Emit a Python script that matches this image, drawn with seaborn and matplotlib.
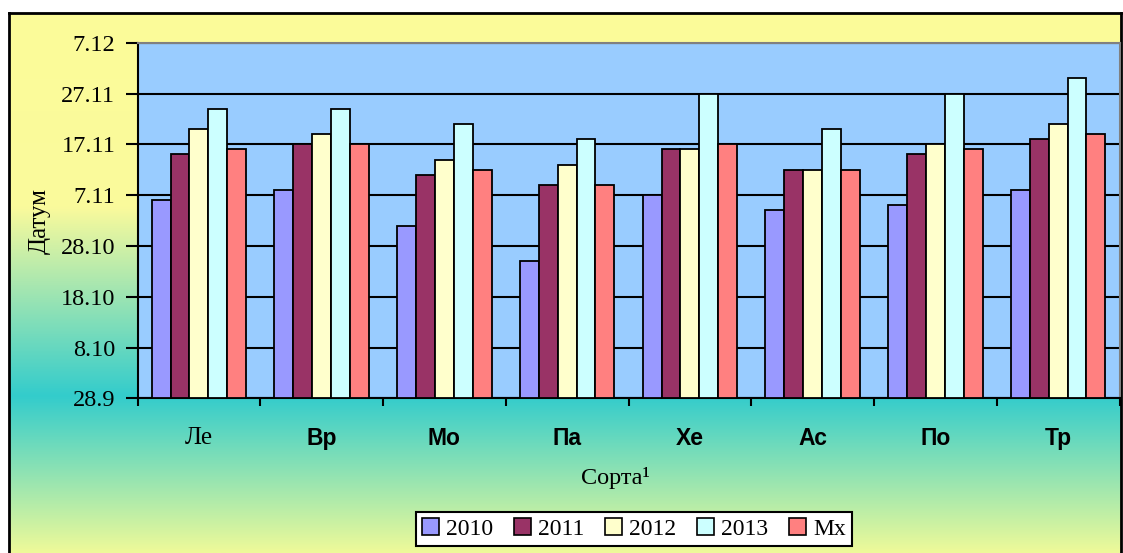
import numpy as np
import pandas as pd
import seaborn as sns
import matplotlib.pyplot as plt
from matplotlib.colors import LinearSegmentedColormap
from matplotlib.patches import Patch

# Sorts (x categories) and series
sorts = ['Ле', 'Вр', 'Мо', 'Па', 'Хе', 'Ас', 'По', 'Тр']
series = ['2010', '2011', '2012', '2013', 'Mx']

# values = days after 28.9
days_2010 = [39, 41, 34, 27, 40, 37, 38, 41]
days_2011 = [48, 50, 44, 42, 49, 45, 48, 51]
days_2012 = [53, 52, 47, 46, 49, 45, 50, 54]
days_2013 = [57, 57, 54, 51, 60, 53, 60, 63]
days_mx = [49, 50, 45, 42, 50, 45, 49, 52]

date_ticks = [0, 10, 20, 30, 40, 50, 60, 70]
date_labels = ['28.9', '8.10', '18.10', '28.10', '7.11', '17.11', '27.11', '7.12']

colors = ['#9999FF', '#993366', '#FFFFCC', '#CCFFFF', '#FF8080']

serif = 'Liberation Serif'
sans = 'Liberation Sans'

df = pd.DataFrame({'Сорта': sorts, '2010': days_2010, '2011': days_2011,
                   '2012': days_2012, '2013': days_2013, 'Mx': days_mx})
df_long = df.melt(id_vars='Сорта', var_name='series', value_name='day')

W, H = 1123, 553
fig = plt.figure(figsize=(W / 100, H / 100), dpi=100, facecolor='white')

# gradient chart area background
bg = fig.add_axes([9 / W, 0, 1112 / W, 540 / H], zorder=0)
cmap = LinearSegmentedColormap.from_list(
    'bg', [(0, '#FCFC99'), (0.36, '#FAFA9C'), (0.71, '#33CCCC'), (1, '#EEFA99')])
grad = np.linspace(0, 1, 256).reshape(-1, 1)
bg.imshow(grad, aspect='auto', cmap=cmap, extent=[0, 1, 0, 1], origin='upper')
bg.set_xticks([])
bg.set_yticks([])
for side, sp in bg.spines.items():
    sp.set_linewidth(2)
    sp.set_color('black')
bg.spines['bottom'].set_visible(False)

ax = fig.add_axes([137.5 / W, (H - 398.3) / H, 982 / W, 355.6 / H], zorder=1)
ax.set_facecolor('#99CCFF')
sns.barplot(data=df_long, x='Сорта', y='day', hue='series', hue_order=series,
            palette=colors, saturation=1, width=0.77, edgecolor='black', linewidth=1.3,
            errorbar=None, legend=False, ax=ax, zorder=3)

ax.set_xlim(-0.5, len(sorts) - 0.5)
ax.set_ylim(0, 70)
ax.set_yticks(date_ticks)
ax.set_yticklabels(date_labels, fontfamily=serif, fontsize=17.5)
ax.yaxis.grid(True, color='black', linewidth=1.5, zorder=1)
ax.set_axisbelow(True)
ax.set_xlabel('')
ax.set_ylabel('')

ax.set_xticks(range(len(sorts)))
ax.set_xticks(np.arange(-0.5, len(sorts)), minor=True)
ax.tick_params(axis='x', which='major', length=0, pad=21)
ax.tick_params(axis='x', which='minor', length=6, width=1.5, direction='out')
ax.tick_params(axis='y', length=9, width=1.5, direction='out', pad=7)
labels = ax.set_xticklabels(sorts)
for i, t in enumerate(labels):
    if i == 0:
        t.set_fontfamily(serif)
        t.set_fontsize(18)
    else:
        t.set_fontfamily(sans)
        t.set_fontweight('bold')
        t.set_fontsize(16.5)

for side in ['left', 'bottom']:
    ax.spines[side].set_color('black')
    ax.spines[side].set_linewidth(1.5)
for side in ['top', 'right']:
    ax.spines[side].set_color('#808080')
    ax.spines[side].set_linewidth(1.5)

fig.text(40 / W, 1 - 221 / H, 'Датум', rotation=90, ha='center', va='center',
         fontfamily=serif, fontsize=18)
fig.text(615 / W, 1 - 478 / H, 'Сорта¹', ha='center', va='center',
         fontfamily=serif, fontsize=17.5)

handles = [Patch(facecolor=c, edgecolor='black', linewidth=1.2) for c in colors]
leg = fig.legend(handles, series, loc='center', bbox_to_anchor=(634 / W, 1 - 529 / H),
                 ncol=5, frameon=True, fancybox=False, framealpha=1, edgecolor='black',
                 borderpad=0.25, handlelength=0.7, handleheight=0.7, handletextpad=0.3,
                 columnspacing=0.9, prop={'family': serif, 'size': 17})
leg.get_frame().set_linewidth(1.5)
leg.set_zorder(5)

fig.savefig('out.png', dpi=100, facecolor='white')
